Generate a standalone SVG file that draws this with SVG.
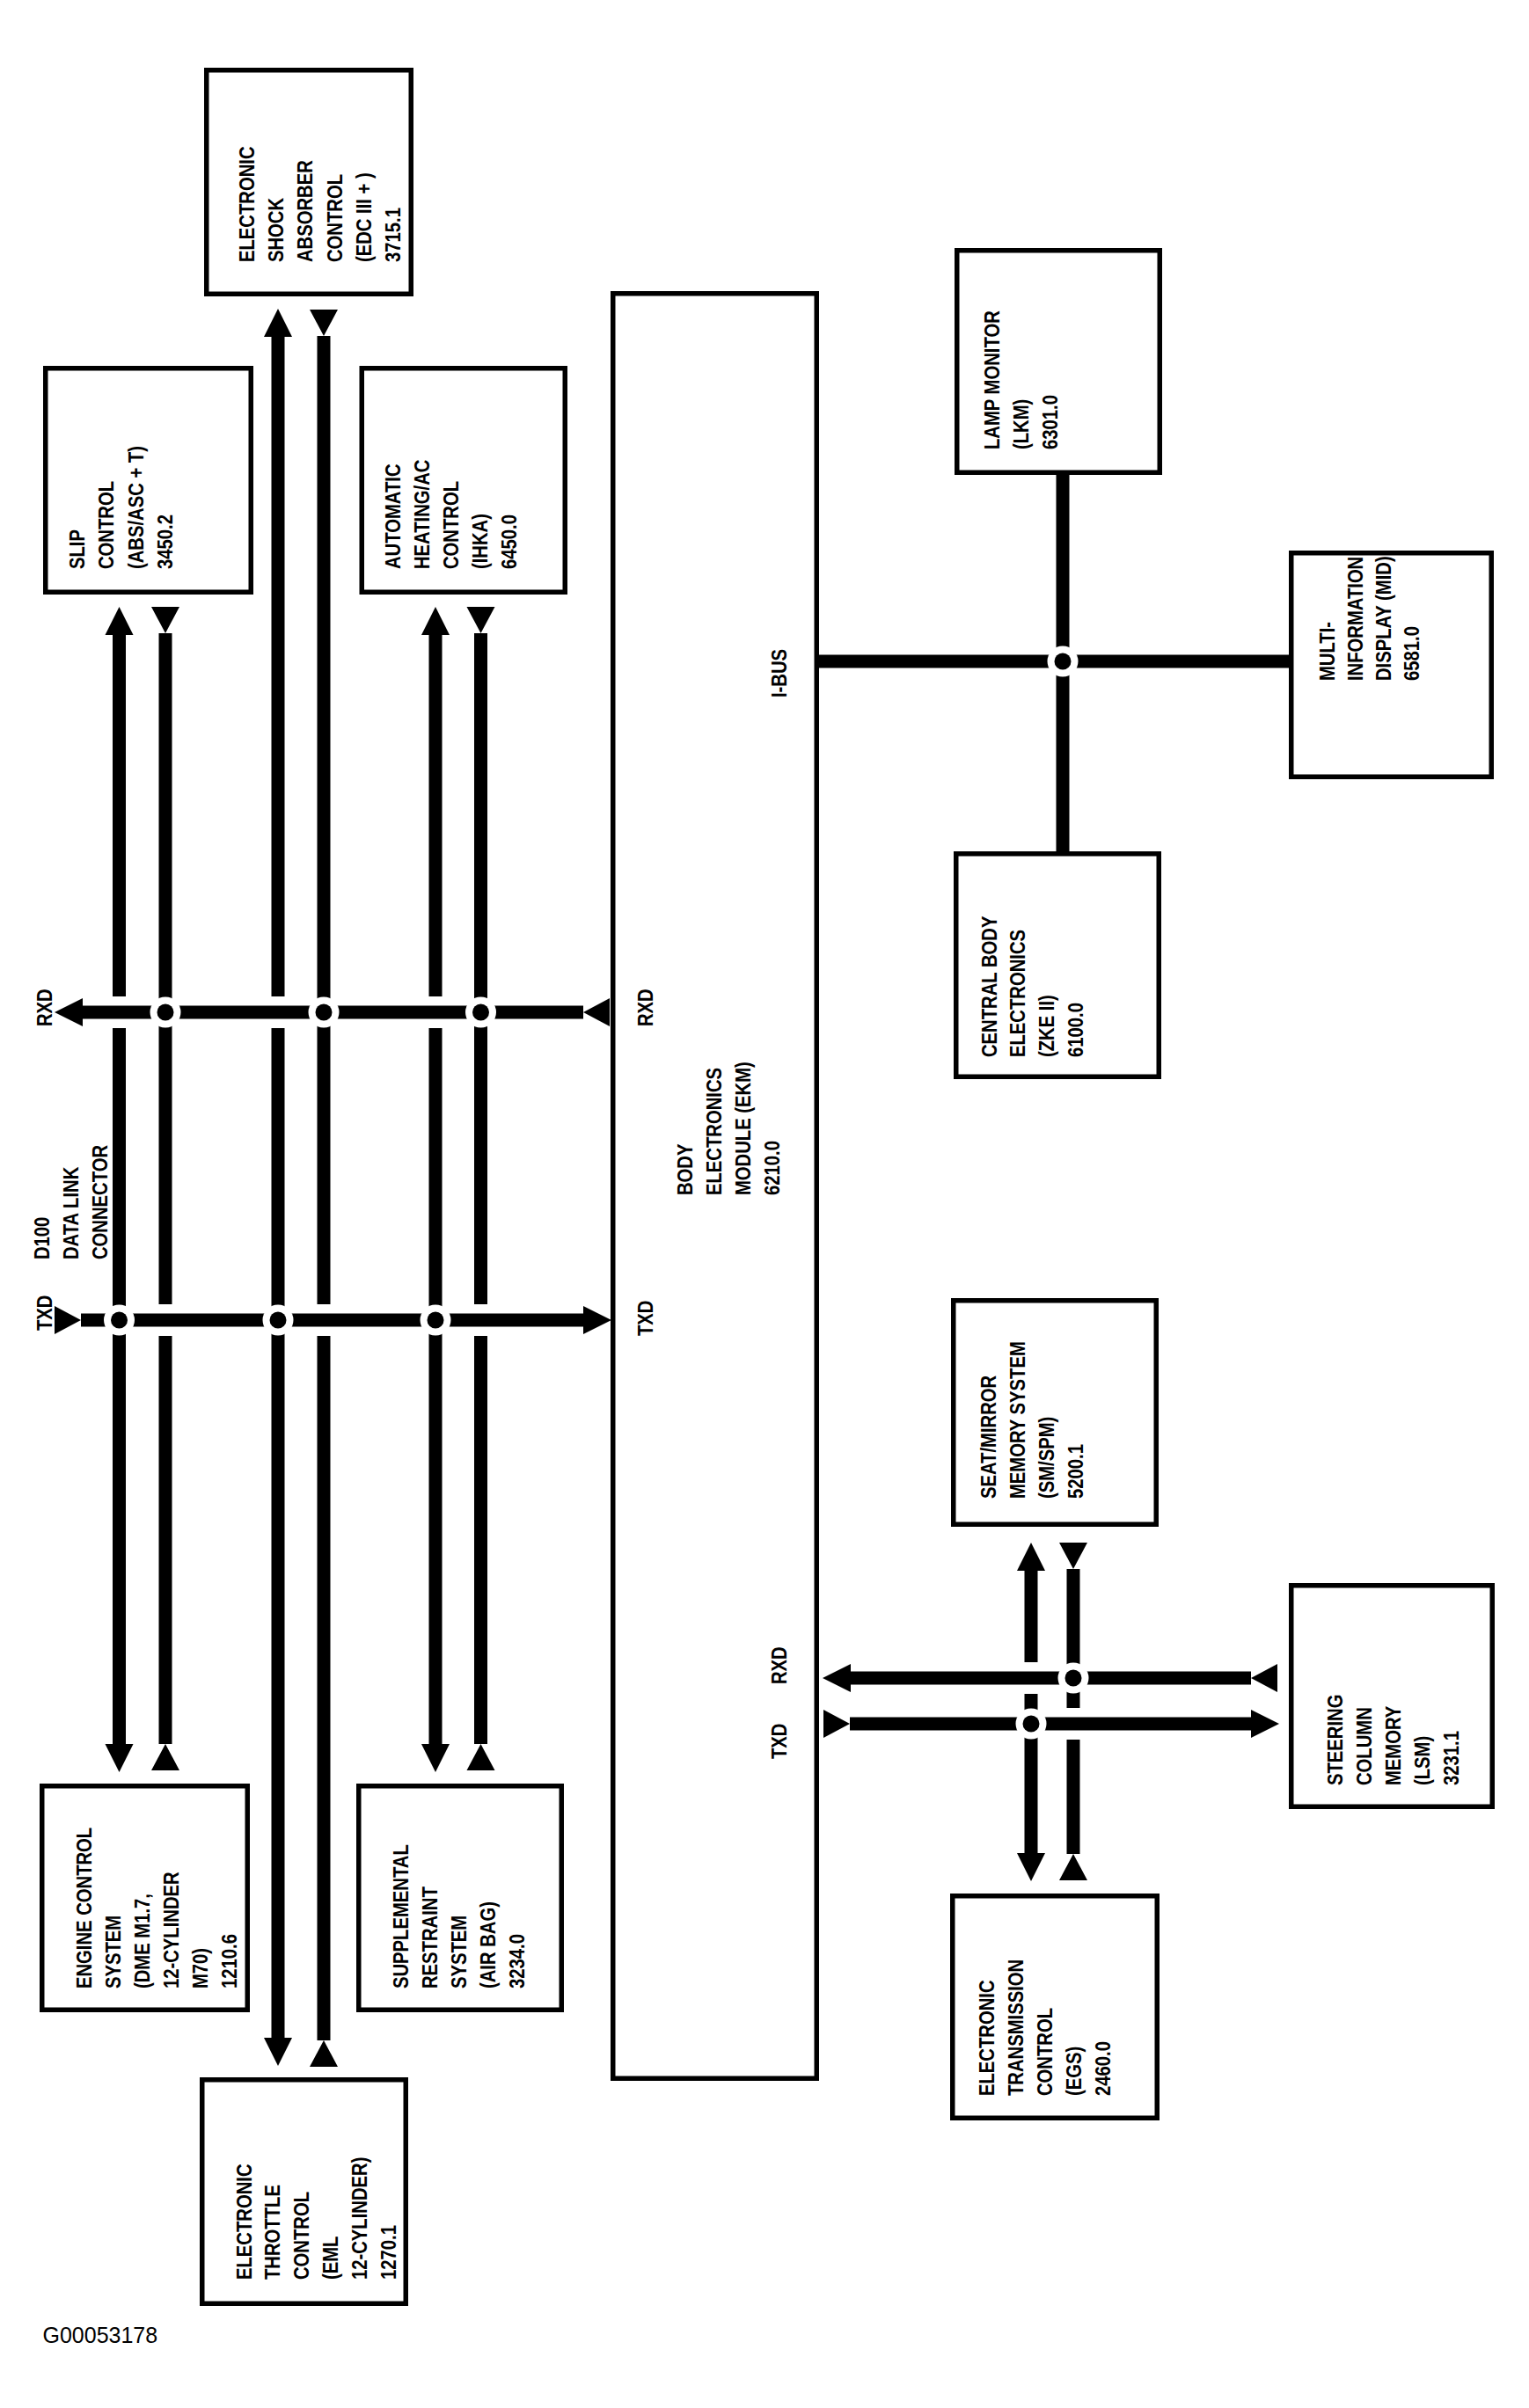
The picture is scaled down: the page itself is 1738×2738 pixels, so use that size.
<svg xmlns="http://www.w3.org/2000/svg" width="1738" height="2738" viewBox="0 0 1738 2738">
<style>
.box{fill:#fff;stroke:#000;stroke-width:5.5}
.bus{fill:none;stroke:#000;stroke-width:15}
.hd{marker-end:url(#head)}
.tl{marker-start:url(#tail)}
.lbl text{font-family:"Liberation Sans",Arial,sans-serif;font-size:23px;font-weight:bold;fill:#000}
.halo{fill:#fff}
.dot{fill:#000}
.code{font-family:"Liberation Sans",Arial,sans-serif;font-size:25px;fill:#000}
</style>
<defs>
<marker id="head" markerUnits="userSpaceOnUse" markerWidth="34" markerHeight="34" refX="0" refY="16" orient="auto" overflow="visible"><path d="M0,0 L32,16 L0,32 Z" fill="#000"/></marker>
<marker id="tail" markerUnits="userSpaceOnUse" markerWidth="34" markerHeight="34" refX="30" refY="16" orient="auto" overflow="visible"><path d="M0,0 L30,16 L0,32 Z" fill="#000"/></marker>
</defs>
<rect width="1738" height="2738" fill="#fff"/>

<g id="connectors">
<!-- D100 data link bus: vertical lines -->
<path class="bus hd" d="M135.5,1133 L135.5,722"/>
<path class="bus hd" d="M135.5,1169 L135.5,1983"/>
<path class="bus tl" d="M188,720 L188,1483"/>
<path class="bus tl" d="M188,1983 L188,1519"/>
<path class="bus hd" d="M316,1133 L316,383"/>
<path class="bus hd" d="M316,1169 L316,2317"/>
<path class="bus tl" d="M368,382 L368,1483"/>
<path class="bus tl" d="M368,2320 L368,1519"/>
<path class="bus hd" d="M495,1133 L495,722"/>
<path class="bus hd" d="M495,1169 L495,1983"/>
<path class="bus tl" d="M546.5,720 L546.5,1483"/>
<path class="bus tl" d="M546.5,1983 L546.5,1519"/>
<!-- horizontal RXD / TXD -->
<path class="bus tl hd" d="M663,1151 L94,1151"/>
<path class="bus tl hd" d="M92,1501 L663,1501"/>
<!-- junctions -->
<g>
<circle class="halo" cx="188" cy="1151" r="17.5"/><circle class="dot" cx="188" cy="1151" r="9.5"/>
<circle class="halo" cx="368" cy="1151" r="17.5"/><circle class="dot" cx="368" cy="1151" r="9.5"/>
<circle class="halo" cx="546.5" cy="1151" r="17.5"/><circle class="dot" cx="546.5" cy="1151" r="9.5"/>
<circle class="halo" cx="135.5" cy="1501" r="17.5"/><circle class="dot" cx="135.5" cy="1501" r="9.5"/>
<circle class="halo" cx="316" cy="1501" r="17.5"/><circle class="dot" cx="316" cy="1501" r="9.5"/>
<circle class="halo" cx="495" cy="1501" r="17.5"/><circle class="dot" cx="495" cy="1501" r="9.5"/>
</g>
<!-- I-BUS -->
<path class="bus" d="M931,752 L1465,752"/>
<path class="bus" d="M1208,540 L1208,968"/>
<circle class="halo" cx="1208" cy="752" r="17.5"/><circle class="dot" cx="1208" cy="752" r="9.5"/>
<!-- right cluster -->
<path class="bus tl hd" d="M1422,1908 L967,1908"/>
<path class="bus tl hd" d="M966,1960 L1422,1960"/>
<path class="bus hd" d="M1172,1890 L1172,1786"/>
<path class="bus hd" d="M1172,1926 L1172,2107"/>
<path class="bus tl" d="M1220,1784 L1220,1942"/>
<path class="bus tl" d="M1220,2108 L1220,1978"/>
<circle class="halo" cx="1172" cy="1960" r="17.5"/><circle class="dot" cx="1172" cy="1960" r="9.5"/>
<circle class="halo" cx="1220" cy="1908" r="17.5"/><circle class="dot" cx="1220" cy="1908" r="9.5"/>
</g>

<g id="edc">
<rect class="box" x="234.75" y="79.75" width="232.5" height="254.5"/>
<g class="lbl" transform="translate(289,298) rotate(-90) scale(0.88,1)">
<text y="0">ELECTRONIC</text><text y="33.2">SHOCK</text><text y="66.4">ABSORBER</text><text y="99.6">CONTROL</text><text y="132.8">(EDC III + )</text><text y="166">3715.1</text>
</g>
</g>

<g id="slip">
<rect class="box" x="51.75" y="418.75" width="233.5" height="254.5"/>
<g class="lbl" transform="translate(96,647) rotate(-90) scale(0.88,1)">
<text y="0">SLIP</text><text y="33.5">CONTROL</text><text y="67">(ABS/ASC + T)</text><text y="100.5">3450.2</text>
</g>
</g>

<g id="ihka">
<rect class="box" x="411.25" y="418.75" width="231" height="254.5"/>
<g class="lbl" transform="translate(455,647) rotate(-90) scale(0.88,1)">
<text y="0">AUTOMATIC</text><text y="33">HEATING/AC</text><text y="66">CONTROL</text><text y="99">(IHKA)</text><text y="132">6450.0</text>
</g>
</g>

<g id="ekm">
<rect class="box" x="696.75" y="333.75" width="231.5" height="2029.5"/>
<g class="lbl" transform="translate(787,1359) rotate(-90) scale(0.88,1)">
<text y="0">BODY</text><text y="33">ELECTRONICS</text><text y="66">MODULE (EKM)</text><text y="99">6210.0</text>
</g>
</g>

<g id="lkm">
<rect class="box" x="1087.75" y="284.75" width="230.5" height="252.5"/>
<g class="lbl" transform="translate(1136,511) rotate(-90) scale(0.88,1)">
<text y="0">LAMP MONITOR</text><text y="33">(LKM)</text><text y="66">6301.0</text>
</g>
</g>

<g id="mid">
<rect class="box" x="1467.75" y="628.75" width="227.5" height="254.5"/>
<g class="lbl" transform="translate(1517,774) rotate(-90) scale(0.88,1)">
<text y="0">MULTI-</text><text y="32">INFORMATION</text><text y="64">DISPLAY (MID)</text><text y="96">6581.0</text>
</g>
</g>

<g id="zke">
<rect class="box" x="1086.75" y="970.75" width="230.5" height="253.5"/>
<g class="lbl" transform="translate(1132.5,1202) rotate(-90) scale(0.88,1)">
<text y="0">CENTRAL BODY</text><text y="33">ELECTRONICS</text><text y="66">(ZKE II)</text><text y="99">6100.0</text>
</g>
</g>

<g id="sm">
<rect class="box" x="1083.75" y="1478.75" width="230.5" height="254.5"/>
<g class="lbl" transform="translate(1132,1704) rotate(-90) scale(0.88,1)">
<text y="0">SEAT/MIRROR</text><text y="33">MEMORY SYSTEM</text><text y="66">(SM/SPM)</text><text y="99">5200.1</text>
</g>
</g>

<g id="lsm">
<rect class="box" x="1467.75" y="1802.75" width="228.5" height="251.5"/>
<g class="lbl" transform="translate(1526,2030) rotate(-90) scale(0.88,1)">
<text y="0">STEERING</text><text y="33">COLUMN</text><text y="66">MEMORY</text><text y="99">(LSM)</text><text y="132">3231.1</text>
</g>
</g>

<g id="egs">
<rect class="box" x="1082.75" y="2155.75" width="232.5" height="252.5"/>
<g class="lbl" transform="translate(1130,2383) rotate(-90) scale(0.88,1)">
<text y="0">ELECTRONIC</text><text y="33">TRANSMISSION</text><text y="66">CONTROL</text><text y="99">(EGS)</text><text y="132">2460.0</text>
</g>
</g>

<g id="dme">
<rect class="box" x="47.75" y="2030.75" width="233.5" height="254.5"/>
<g class="lbl" transform="translate(104,2261) rotate(-90) scale(0.88,1)">
<text y="0">ENGINE CONTROL</text><text y="33">SYSTEM</text><text y="66">(DME M1.7,</text><text y="99">12-CYLINDER</text><text y="132">M70)</text><text y="165">1210.6</text>
</g>
</g>

<g id="srs">
<rect class="box" x="407.75" y="2030.75" width="230.5" height="254.5"/>
<g class="lbl" transform="translate(464,2261) rotate(-90) scale(0.88,1)">
<text y="0">SUPPLEMENTAL</text><text y="33">RESTRAINT</text><text y="66">SYSTEM</text><text y="99">(AIR BAG)</text><text y="132">3234.0</text>
</g>
</g>

<g id="eml">
<rect class="box" x="229.75" y="2364.75" width="231.5" height="254.5"/>
<g class="lbl" transform="translate(285.5,2592) rotate(-90) scale(0.88,1)">
<text y="0">ELECTRONIC</text><text y="33">THROTTLE</text><text y="66">CONTROL</text><text y="99">(EML</text><text y="132">12-CYLINDER)</text><text y="165">1270.1</text>
</g>
</g>

<g id="labels">
<g class="lbl" transform="translate(58.7,1167) rotate(-90) scale(0.88,1)"><text>RXD</text></g>
<g class="lbl" transform="translate(58.7,1513) rotate(-90) scale(0.88,1)"><text>TXD</text></g>
<g class="lbl" transform="translate(56,1432) rotate(-90) scale(0.88,1)"><text y="0">D100</text><text y="33">DATA LINK</text><text y="66">CONNECTOR</text></g>
<g class="lbl" transform="translate(742,1167) rotate(-90) scale(0.88,1)"><text>RXD</text></g>
<g class="lbl" transform="translate(742,1519) rotate(-90) scale(0.88,1)"><text>TXD</text></g>
<g class="lbl" transform="translate(894,793) rotate(-90) scale(0.88,1)"><text>I-BUS</text></g>
<g class="lbl" transform="translate(894,1915) rotate(-90) scale(0.88,1)"><text>RXD</text></g>
<g class="lbl" transform="translate(894,2000) rotate(-90) scale(0.88,1)"><text>TXD</text></g>
<text class="code" x="48.5" y="2664">G00053178</text>
</g>
</svg>
